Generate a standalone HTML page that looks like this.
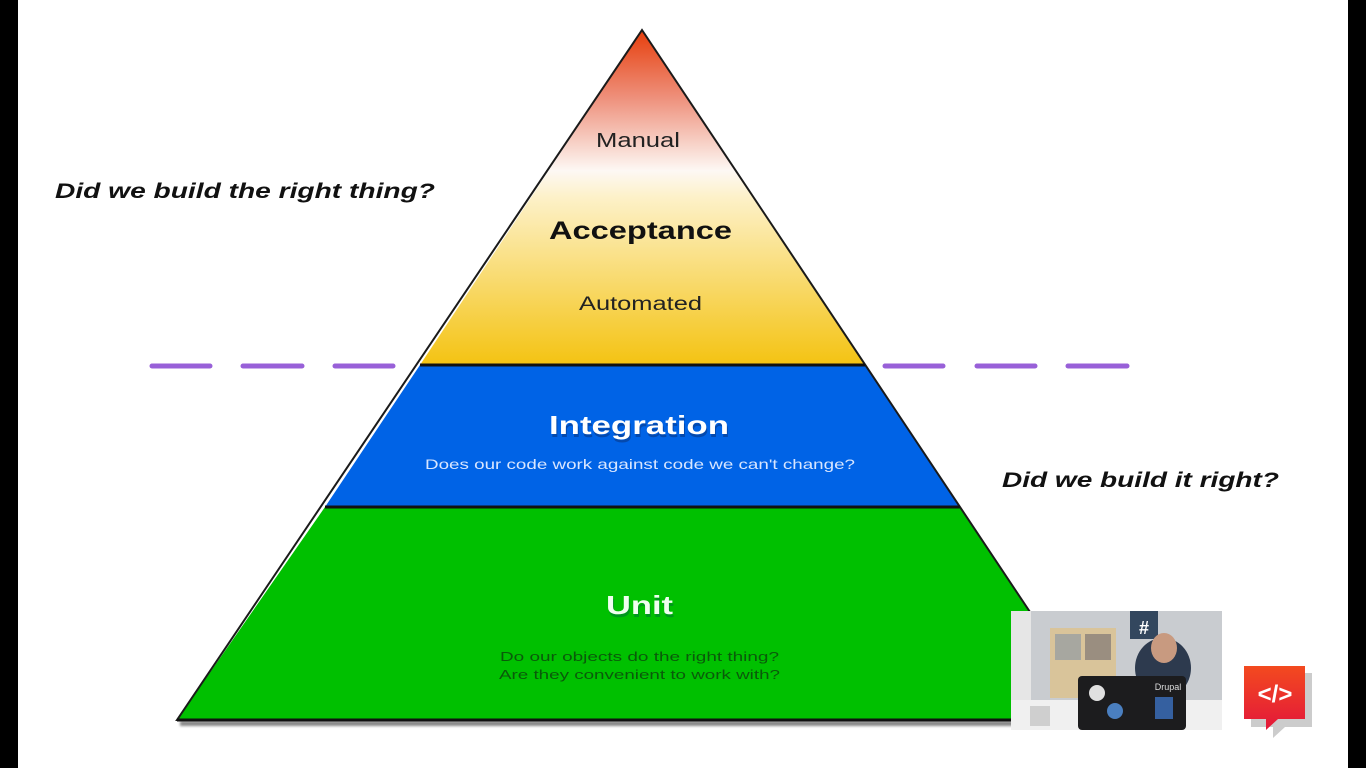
<!DOCTYPE html>
<html><head><meta charset="utf-8"><style>
html,body{margin:0;padding:0;background:#fff;width:1366px;height:768px;overflow:hidden}
svg text{font-family:"Liberation Sans",sans-serif}
</style></head><body>
<svg width="1366" height="768" viewBox="0 0 1366 768" xmlns="http://www.w3.org/2000/svg">
<defs>
<linearGradient id="acc" x1="0" y1="30" x2="0" y2="365" gradientUnits="userSpaceOnUse">
<stop offset="0" stop-color="#e63e0c"/>
<stop offset="0.2" stop-color="#ee8f7a"/>
<stop offset="0.42" stop-color="#fdf8f4"/>
<stop offset="0.5" stop-color="#fdf1c8"/>
<stop offset="1" stop-color="#f4c312"/>
</linearGradient>
<linearGradient id="logo" x1="0" y1="0" x2="0" y2="1">
<stop offset="0" stop-color="#f34a1f"/><stop offset="1" stop-color="#e3173a"/>
</linearGradient>
<filter id="sh" x="-20%" y="-50%" width="140%" height="200%"><feGaussianBlur stdDeviation="1.2"/></filter>
</defs>
<rect x="0" y="0" width="18" height="768" fill="#000"/>
<rect x="1348" y="0" width="18" height="768" fill="#000"/>
<rect x="180" y="721" width="900" height="5" fill="#888" filter="url(#sh)"/>
<polygon points="642,30 865,365 420,365" fill="url(#acc)"/>
<polygon points="420,365 865,365 960,507 325,507" fill="#0063e6"/>
<polygon points="325,507 960,507 1102,720 177,720" fill="#00c000"/>
<polygon points="642,30 1102,720 177,720" fill="none" stroke="#1a1a1a" stroke-width="2"/>
<line x1="420" y1="365" x2="865" y2="365" stroke="#111" stroke-width="3"/>
<line x1="325" y1="507" x2="960" y2="507" stroke="#111" stroke-width="3"/>
<line x1="177" y1="720" x2="1102" y2="720" stroke="#111" stroke-width="3"/>
<g stroke-linecap="round" stroke-width="5">
<g stroke="#777" filter="url(#sh)" transform="translate(0,6)">
<line x1="152" y1="366" x2="210" y2="366"/><line x1="243" y1="366" x2="302" y2="366"/><line x1="335" y1="366" x2="393" y2="366"/>
<line x1="885" y1="366" x2="943" y2="366"/><line x1="977" y1="366" x2="1035" y2="366"/><line x1="1068" y1="366" x2="1127" y2="366"/>
</g>
<g stroke="#9860d8">
<line x1="152" y1="366" x2="210" y2="366"/><line x1="243" y1="366" x2="302" y2="366"/><line x1="335" y1="366" x2="393" y2="366"/>
<line x1="885" y1="366" x2="943" y2="366"/><line x1="977" y1="366" x2="1035" y2="366"/><line x1="1068" y1="366" x2="1127" y2="366"/>
</g>
</g>
<g lengthAdjust="spacingAndGlyphs">
<text x="596" y="147" font-size="20" textLength="84" lengthAdjust="spacingAndGlyphs" fill="#222">Manual</text>
<text x="549" y="239" font-size="25" font-weight="bold" textLength="183" lengthAdjust="spacingAndGlyphs" fill="#111">Acceptance</text>
<text x="579" y="310" font-size="19" textLength="123" lengthAdjust="spacingAndGlyphs" fill="#222">Automated</text>
<text x="55" y="198" font-size="21" font-weight="bold" font-style="italic" textLength="380" lengthAdjust="spacingAndGlyphs" fill="#111">Did we build the right thing?</text>
<text x="1002" y="487" font-size="21" font-weight="bold" font-style="italic" textLength="277" lengthAdjust="spacingAndGlyphs" fill="#111">Did we build it right?</text>
<text x="550" y="437" font-size="26" font-weight="bold" textLength="180" lengthAdjust="spacingAndGlyphs" fill="#0a2a6a" opacity="0.45">Integration</text>
<text x="549" y="434" font-size="26" font-weight="bold" textLength="180" lengthAdjust="spacingAndGlyphs" fill="#fff">Integration</text>
<text x="425" y="469" font-size="14" textLength="430" lengthAdjust="spacingAndGlyphs" fill="#d8e6ff">Does our code work against code we can't change?</text>
<text x="607" y="617" font-size="26" font-weight="bold" textLength="67" lengthAdjust="spacingAndGlyphs" fill="#064" opacity="0.45">Unit</text>
<text x="606" y="614" font-size="26" font-weight="bold" textLength="67" lengthAdjust="spacingAndGlyphs" fill="#f0fff0">Unit</text>
<text x="500" y="661" font-size="13" textLength="279" lengthAdjust="spacingAndGlyphs" fill="#0a5a0a">Do our objects do the right thing?</text>
<text x="499" y="679" font-size="13" textLength="281" lengthAdjust="spacingAndGlyphs" fill="#0a5a0a">Are they convenient to work with?</text>
</g>
<rect x="1011" y="611" width="211" height="119" fill="#c9ccd0"/>
<rect x="1011" y="611" width="20" height="119" fill="#e6e6e6"/>
<rect x="1050" y="628" width="66" height="70" fill="#d9c49a"/>
<rect x="1055" y="634" width="26" height="26" fill="#a7a7a0"/><rect x="1085" y="634" width="26" height="26" fill="#9a8e80"/>
<rect x="1130" y="611" width="28" height="28" fill="#33475e"/>
<text x="1144" y="634" font-size="18" font-weight="bold" text-anchor="middle" fill="#fff">#</text>
<ellipse cx="1163" cy="668" rx="28" ry="30" fill="#2d3a4e"/>
<ellipse cx="1164" cy="648" rx="13" ry="15" fill="#c89a80"/>
<rect x="1011" y="700" width="211" height="30" fill="#f0f0f0"/>
<rect x="1078" y="676" width="108" height="54" rx="4" fill="#1c1c1e"/>
<text x="1168" y="690" font-size="9" fill="#ddd" text-anchor="middle">Drupal</text>
<circle cx="1097" cy="693" r="8" fill="#e0e0e0"/><circle cx="1115" cy="711" r="8" fill="#4a7fc0"/><rect x="1155" y="697" width="18" height="22" fill="#3560a0"/>
<rect x="1030" y="706" width="20" height="20" fill="#cfcfcf"/>
<polygon points="1248,670 1309,670 1309,724 1282,724 1270,735 1270,724 1248,724" fill="#ccc" transform="translate(3,3)"/>
<polygon points="1244,666 1305,666 1305,719 1278,719 1266,730 1266,719 1244,719" fill="url(#logo)"/>
<text x="1275" y="702" font-size="24" font-weight="bold" text-anchor="middle" fill="#fff">&lt;/&gt;</text>
</svg>
</body></html>
